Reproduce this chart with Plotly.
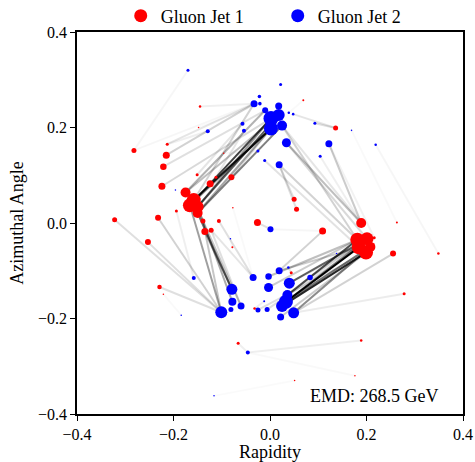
import plotly.graph_objects as go

# ---- Gluon Jet 1 particles: rapidity, azimuth, transverse momentum [GeV]
red_y = [-0.282, -0.145, -0.148, -0.213, -0.215, -0.221, -0.151, -0.224, -0.175, -0.158,
         -0.166, -0.150, -0.150, -0.194, -0.322, -0.232, -0.124, -0.112, -0.080, -0.096,
         -0.077, -0.139, -0.106, -0.026, -0.135, -0.122, -0.253, -0.078, -0.229, -0.221,
         -0.032, -0.066, 0.069, 0.050, 0.055, 0.136, 0.189, 0.263, 0.109, 0.181,
         0.201, 0.184, 0.199, 0.208, 0.216, 0.255, 0.349, 0.278, 0.189, 0.176,
         0.051, 0.044]
red_phi = [0.152, 0.244, 0.200, 0.165, 0.142, 0.118, 0.101, 0.077, 0.064, 0.048,
           0.037, 0.034, 0.021, 0.025, 0.007, 0.011, 0.082, 0.096, 0.096, 0.146,
           0.032, 0.004, 0.004, 0.001, -0.018, -0.015, -0.040, -0.051, -0.134, -0.149,
           -0.179, -0.252, 0.257, 0.050, 0.029, 0.199, 0.000, 0.001, -0.017, -0.035,
           -0.033, -0.051, -0.062, -0.050, -0.031, -0.064, -0.064, -0.148, -0.246, -0.320,
           -0.330, -0.104]
red_pt = [7.5, 1.9, 0.7, 2.7, 14.7, 12.7, 2.7, 14.7, 30.0, 58.8,
          58.8, 43.2, 30.0, 2.7, 7.5, 10.8, 14.7, 2.7, 10.8, 0.7,
          0.7, 7.5, 4.8, 14.7, 14.7, 7.5, 10.8, 1.2, 6.1, 0.7,
          1.9, 2.7, 1.2, 7.5, 7.5, 7.5, 30.0, 1.2, 14.7, 58.8,
          50.7, 58.8, 58.8, 30.0, 2.7, 10.8, 1.9, 2.7, 1.9, 0.7,
          0.7, 2.7]

# ---- Gluon Jet 2 particles
blue_y = [-0.170, -0.196, -0.129, 0.022, -0.022, -0.033, -0.021, 0.018, -0.010, 0.039,
          0.048, 0.002, 0.018, 0.025, 0.002, -0.057, -0.054, 0.034, 0.093, 0.104,
          0.122, -0.025, -0.011, 0.019, 0.169, 0.219, 0.001, -0.035, -0.079, -0.078,
          -0.060, -0.081, -0.101, -0.003, 0.019, 0.038, -0.003, 0.040, 0.083, -0.012,
          0.033, 0.025, 0.036, 0.049, 0.022, -0.006, -0.025, -0.046, -0.082, -0.158,
          -0.116, -0.184, 0.138]
blue_phi = [0.320, 0.069, 0.192, 0.290, 0.265, 0.250, 0.250, 0.245, 0.236, 0.231,
            0.228, 0.219, 0.226, 0.204, 0.198, 0.208, 0.193, 0.168, 0.209, 0.140,
            0.166, 0.151, 0.131, 0.122, 0.194, 0.164, -0.013, -0.114, -0.139, -0.165,
            -0.174, -0.181, -0.187, -0.112, -0.100, -0.093, -0.135, -0.126, -0.114, -0.164,
            -0.165, -0.174, -0.151, -0.188, -0.197, -0.181, -0.182, -0.271, -0.033, -0.115,
            -0.362, -0.193, -0.064]
blue_pt = [2.7, 0.7, 4.8, 2.7, 3.7, 14.7, 3.7, 14.7, 10.8, 1.9,
           1.9, 67.5, 43.2, 30.0, 58.8, 4.8, 4.8, 24.3, 2.7, 2.7,
           14.7, 2.7, 2.7, 14.7, 0.7, 1.9, 10.8, 14.7, 36.3, 19.2,
           14.7, 7.5, 43.2, 12.7, 14.7, 1.9, 24.3, 36.3, 9.1, 1.2,
           58.8, 43.2, 30.0, 36.3, 14.7, 7.5, 7.5, 4.8, 0.7, 4.8,
           0.7, 0.7, 0.7]

# ---- optimal transport flows: (jet 1 particle, jet 2 particle, flow [GeV])
flow_from = [9, 10, 11, 12, 8, 10, 9, 16, 18, 4, 3, 5, 7, 0, 0, 1, 6, 17, 3, 11, 12, 8, 19, 2,
             12, 10, 11, 9, 24, 21, 25, 14, 15, 26, 28, 29, 22, 13, 25, 20,
             23, 38, 38, 33, 34, 51, 27, 30,
             36, 36, 36, 36, 39, 41, 39, 40, 35, 35, 46, 37, 44, 32,
             41, 42, 39, 40, 43, 39, 41, 42, 40, 39, 41, 42, 45, 47, 48, 49, 31, 44, 43, 40, 50, 44]
flow_to = [14, 11, 12, 13, 8, 14, 5, 14, 14, 5, 5, 8, 11, 0, 5, 5, 15, 16, 2, 11, 14, 12, 21, 6,
           28, 32, 29, 30, 28, 32, 30, 32, 32, 32, 32, 51, 27, 49, 27, 27,
           26, 34, 26, 23, 23, 35, 48, 39,
           17, 20, 13, 19, 23, 22, 13, 17, 18, 10, 25, 24, 20, 9,
           40, 41, 42, 37, 43, 33, 34, 44, 38, 36, 45, 46, 43, 43, 47, 47, 47, 37, 40, 40, 50, 52]
flow_gev = [34, 30, 26, 20, 12, 18, 7, 7, 6, 7, 4, 5, 6, 1.5, 1.5, 2.5, 4, 4, 2.5, 16, 14, 10, 1, 1,
            22, 15, 13, 9, 16, 9, 5, 5, 7, 5, 5, 1, 5, 2.5, 4, 1,
            5, 7, 1.5, 5, 5, 4, 1, 2.5,
            10, 8, 4, 2.5, 7, 4.5, 7, 6, 5, 4, 1.5, 1, 2, 1,
            40, 34, 28, 24, 18, 10, 8, 8, 7, 8, 5, 5, 7, 3, 2.5, 1, 2.5, 4, 22, 18, 0.8, 1]

emd_value = 268.5
legend_names = ["Gluon Jet 1", "Gluon Jet 2"]
tick_vals = [-0.4, -0.2, 0.0, 0.2, 0.4]

FONT = "Liberation Serif"
TICK_FS = 16
TEXT_FS = 18
PX_PER_SQRT_GEV = 1.0 / 0.3 ** 0.5  # marker area proportional to pT

fig = go.Figure()

max_flow = max(flow_gev)
for i, j, f in zip(flow_from, flow_to, flow_gev):
    fig.add_trace(go.Scatter(
        x=[red_y[i], blue_y[j]], y=[red_phi[i], blue_phi[j]],
        mode="lines", showlegend=False, hoverinfo="skip",
        line=dict(color=f"rgba(0,0,0,{f / max_flow:.3f})", width=2),
    ))

def sizes(pts):
    return [PX_PER_SQRT_GEV * p ** 0.5 for p in pts]

fig.add_trace(go.Scatter(x=red_y, y=red_phi, mode="markers", showlegend=False,
                         marker=dict(color="#ff0000", size=sizes(red_pt), opacity=1,
                                     line=dict(width=0))))
fig.add_trace(go.Scatter(x=blue_y, y=blue_phi, mode="markers", showlegend=False,
                         marker=dict(color="#0000ff", size=sizes(blue_pt), opacity=1,
                                     line=dict(width=0))))

# legend entries
for name, col in zip(legend_names, ["#ff0000", "#0000ff"]):
    fig.add_trace(go.Scatter(x=[None], y=[None], mode="markers", name=name,
                             marker=dict(color=col, size=13, opacity=1)))

axis_common = dict(
    range=[-0.4, 0.4], tickvals=tick_vals, tickformat=".1f",
    showgrid=False, zeroline=False, showline=True, mirror=True,
    linecolor="black", linewidth=1.5, ticks="outside", ticklen=5,
    tickwidth=1.2, tickcolor="black", tickfont=dict(family=FONT, size=TICK_FS, color="black"),
)

fig.update_layout(
    width=475, height=462,
    margin=dict(l=77, r=12, t=32, b=48, autoexpand=False),
    paper_bgcolor="white", plot_bgcolor="white",
    font=dict(family=FONT, size=TEXT_FS, color="black"),
    xaxis=dict(title=dict(text="Rapidity", font=dict(family=FONT, size=TEXT_FS), standoff=2),
               **axis_common),
    yaxis=dict(title=dict(text="Azimuthal Angle", font=dict(family=FONT, size=TEXT_FS), standoff=10),
               **axis_common),
    legend=dict(orientation="h", x=0.52, xanchor="center", y=1.042, yanchor="middle",
                entrywidth=112, entrywidthmode="pixels",
                font=dict(family=FONT, size=TEXT_FS), bgcolor="rgba(0,0,0,0)"),
    annotations=[dict(text=f"EMD: {emd_value} GeV", x=0.942, y=0.048, xref="paper", yref="paper",
                      xanchor="right", yanchor="middle", showarrow=False,
                      font=dict(family=FONT, size=TEXT_FS, color="black"))],
)

fig.write_html("out.html")
